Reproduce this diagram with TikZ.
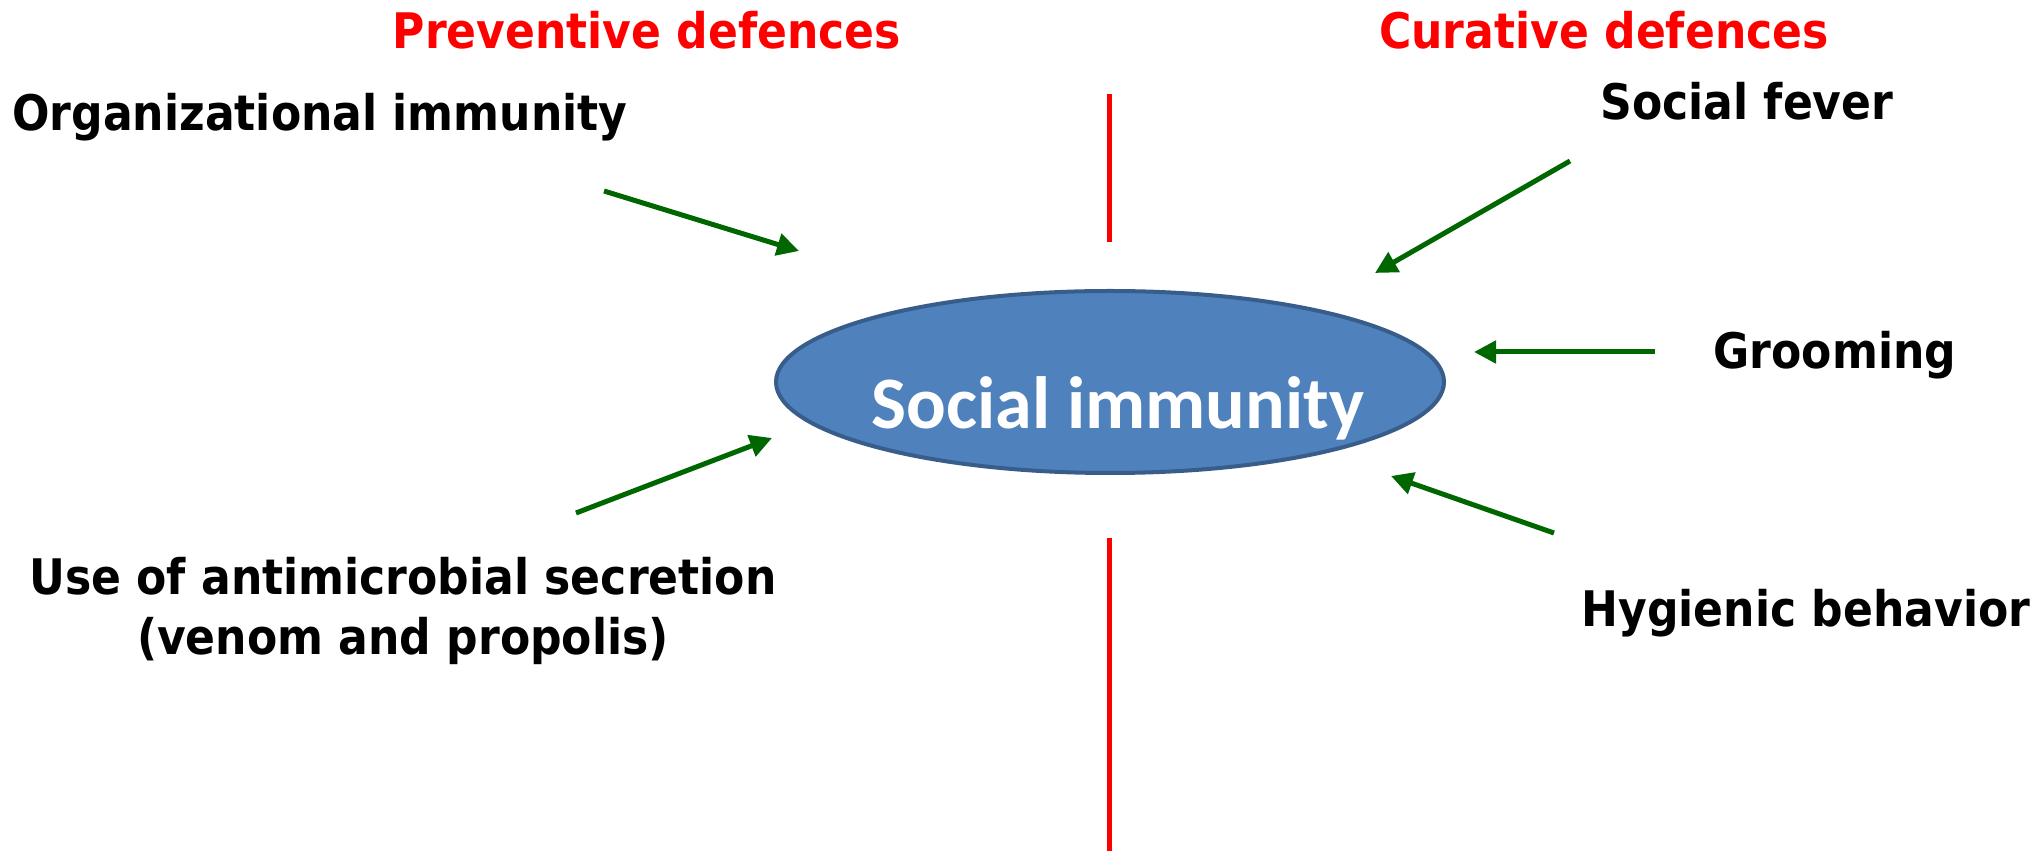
\documentclass[tikz,border=0pt]{standalone}
\usepackage{fontspec}
\usepackage{tikz}
\usetikzlibrary{arrows.meta,shapes.geometric}
\newfontfamily\labelfont{DejaVu Sans Condensed}[BoldFont={DejaVu Sans Condensed Bold}]
\newfontfamily\hubfont{Carlito}
\definecolor{defgreen}{RGB}{0,102,0}
\definecolor{hubblue}{RGB}{79,129,189}
\definecolor{hubedge}{RGB}{56,93,138}

\begin{document}
\begin{tikzpicture}[x=0.5pt,y=-0.5pt,
  side/.style={font=\labelfont\bfseries\fontsize{24.5}{30}\selectfont, text=red, anchor=base, inner sep=0},
  defence/.style={font=\labelfont\bfseries\fontsize{24.5}{30}\selectfont, anchor=base, inner sep=0, align=center},
  divider/.style={red, line width=2.5pt},
  feed/.style={defgreen, line width=2.5pt, -{Triangle[length=11pt,width=11pt]}},
  hub/.style={ellipse, draw=hubedge, fill=hubblue, line width=2pt, minimum width=334pt, minimum height=91pt, inner sep=0}]
\useasboundingbox (0,0) rectangle (2038,854);
\node[side] (prev) at (647,49) {Preventive defences};
\node[side] (cur) at (1604,49) {Curative defences};
\coordinate (topa) at (1109,94);
\coordinate (topb) at (1109,242);
\coordinate (bota) at (1109,538);
\coordinate (botb) at (1109,851);
\draw[divider] (topa) -- (topb);
\draw[divider] (bota) -- (botb);
\node[hub] (soc) at (1110,382) {};
\node[anchor=base, inner sep=0, text=white, font=\hubfont\bfseries\fontsize{37}{44}\selectfont] (soctext) at (1118,429) {Social immunity};
\node[defence] (org) at (320,131) {Organizational immunity};
\node[defence] (fever) at (1747,120) {Social fever};
\node[defence] (groom) at (1835,369) {Grooming};
\node[defence] (hyg) at (1806,626) {Hygienic behavior};
\node[defence] (secr) at (403,654) {Use of antimicrobial secretion\\(venom and propolis)};
\coordinate (orgtail) at (604,191);
\coordinate (orgtip) at (799,251);
\coordinate (fevertail) at (1570,161);
\coordinate (fevertip) at (1375,273);
\coordinate (groomtail) at (1655,352);
\coordinate (groomtip) at (1474,352);
\coordinate (hygtail) at (1554,533);
\coordinate (hygtip) at (1391,476);
\coordinate (secrtail) at (576,513);
\coordinate (secrtip) at (772,438);
\draw[feed] (orgtail) -- (orgtip);
\draw[feed] (fevertail) -- (fevertip);
\draw[feed] (groomtail) -- (groomtip);
\draw[feed] (hygtail) -- (hygtip);
\draw[feed] (secrtail) -- (secrtip);
\end{tikzpicture}
\end{document}
